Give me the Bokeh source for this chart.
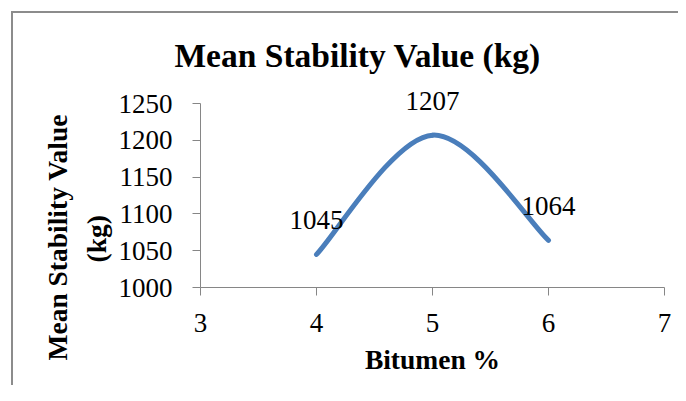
from bokeh.plotting import figure
from bokeh.models import FixedTicker, ColumnDataSource, Title
from bokeh.core.properties import value
from bokeh.embed import file_html
from bokeh.resources import INLINE

# data
bitumen = [4, 5, 6]
stability = [1045, 1207, 1064]
x_ticks = [3, 4, 5, 6, 7]
y_ticks = [1000, 1050, 1100, 1150, 1200, 1250]
title_text = "Mean Stability Value (kg)"
x_label = "Bitumen %"
y_label_lines = ["Mean Stability Value", "(kg)"]

FONT = "Liberation Serif"
W, H = 678, 385
FL, FR, FT, FB = 200, 664, 80, 287     # frame edges (canvas px)
PX_Y = 184 / 250                       # px per y unit (1000..1250 spans 184 px)
y_max = 1000 + (FB - FT) / PX_Y

p = figure(width=W, height=H, output_backend="svg", toolbar_location=None,
           x_range=(3, 7), y_range=(1000, y_max),
           min_border_left=FL, min_border_right=W - FR,
           min_border_top=FT, min_border_bottom=H - FB)
p.outline_line_color = None
p.xgrid.visible = False
p.ygrid.visible = False
p.background_fill_color = None
p.border_fill_color = None
p.styles = {
    "background-color": "white",
    "background-image": "linear-gradient(#8c8c8c,#8c8c8c), linear-gradient(#8c8c8c,#8c8c8c)",
    "background-size": "2px 100%, 100% 2px",
    "background-position": "11px 11px, 11px 11px",
    "background-repeat": "no-repeat",
}

for ax in (p.xaxis[0], p.yaxis[0]):
    ax.axis_line_color = "#868686"
    ax.major_tick_line_color = "#868686"
    ax.minor_tick_line_color = None
    ax.major_tick_out = 8
    ax.major_tick_in = 0
    ax.major_label_text_font = FONT
    ax.major_label_text_font_size = "27px"
    ax.major_label_text_color = "black"
    ax.axis_label_text_font = FONT
    ax.axis_label_text_font_size = "27.5px"
    ax.axis_label_text_font_style = "bold"
    ax.axis_label_text_color = "black"
p.xaxis.ticker = FixedTicker(ticks=x_ticks)
p.yaxis.ticker = FixedTicker(ticks=y_ticks)
p.xaxis.bounds = (3, 7)
p.yaxis.bounds = (1000, 1250)
p.xaxis.major_label_standoff = 18
p.yaxis.major_label_standoff = 20
p.xaxis.axis_label = x_label
p.xaxis.axis_label_standoff = 9

# chart title
p.title = Title(text=title_text, text_font=FONT, text_font_size="33.5px", text_font_style="bold",
                text_color="black", align="left", offset=-26, standoff=13)

# y axis title, two lines, as left-side titles ("(kg)" nearest the axis)
y_offsets = {"(kg)": 25, "Mean Stability Value": -73}
y_standoffs = {"(kg)": 7, "Mean Stability Value": 5}
for line in reversed(y_label_lines):
    p.add_layout(Title(text=line, text_font=FONT, text_font_size="27.5px", text_font_style="bold",
                       text_color="black", align="left", offset=y_offsets[line],
                       standoff=y_standoffs[line]), "left")

# smooth line (Excel-style bezier), control points from data
n = len(bitumen)
x0, y0, x1, y1, cx0, cy0, cx1, cy1 = [], [], [], [], [], [], [], []
for i in range(n - 1):
    pa = (bitumen[max(i - 1, 0)], stability[max(i - 1, 0)])
    pb = (bitumen[i], stability[i])
    pc = (bitumen[i + 1], stability[i + 1])
    pd = (bitumen[min(i + 2, n - 1)], stability[min(i + 2, n - 1)])
    x0.append(pb[0]); y0.append(pb[1]); x1.append(pc[0]); y1.append(pc[1])
    cx0.append(pb[0] + (pc[0] - pa[0]) / 6); cy0.append(pb[1] + (pc[1] - pa[1]) / 6)
    cx1.append(pc[0] - (pd[0] - pb[0]) / 6); cy1.append(pc[1] - (pd[1] - pb[1]) / 6)
p.bezier(x0=x0, y0=y0, x1=x1, y1=y1, cx0=cx0, cy0=cy0, cx1=cx1, cy1=cy1,
         line_color="#4A7EBB", line_width=5, line_cap="round")

src = ColumnDataSource(dict(x=bitumen, y=stability, t=[str(v) for v in stability]))
p.text(x="x", y="y", text="t", source=src, text_font=value(FONT), text_font_size="27px",
       text_align="center", text_baseline="middle", y_offset=-34, text_color="black")

open("out.html", "w").write(file_html(p, INLINE))
